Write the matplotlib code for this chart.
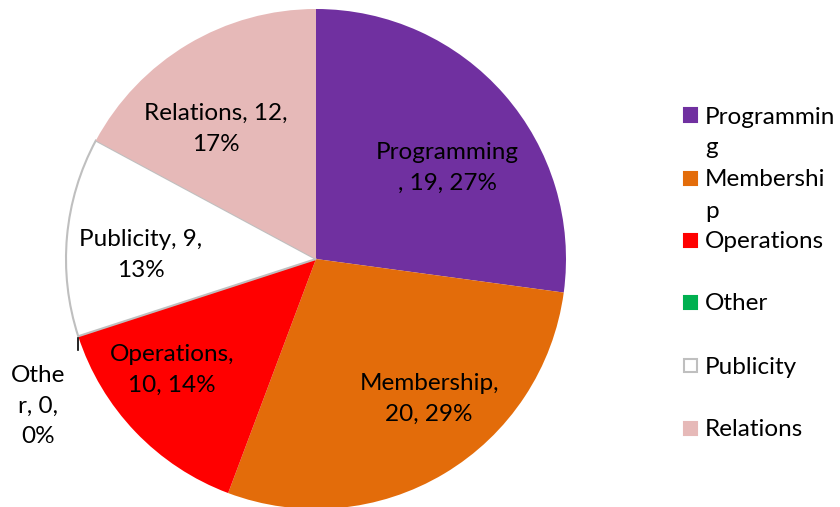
import matplotlib
matplotlib.use("Agg")
import matplotlib.pyplot as plt
from matplotlib.patches import Rectangle
import numpy as np

plt.rcParams['font.family'] = ['Lato', 'DejaVu Sans']

categories = ["Programming", "Membership", "Operations", "Other", "Publicity", "Relations"]
values = [19, 20, 10, 0, 9, 12]
percents = ["27%", "29%", "14%", "0%", "13%", "17%"]
legend_labels = ["Programmin\ng", "Membershi\np", "Operations", "Other", "Publicity", "Relations"]
slice_labels = ["Programming\n, 19, 27%", "Membership,\n20, 29%", "Operations,\n10, 14%",
                "Othe\nr, 0,\n0%", "Publicity, 9,\n13%", "Relations, 12,\n17%"]

colors = ["#7030A0", "#E36C0A", "#FF0000", "#00B050", "#FFFFFF", "#E6B9B8"]
edges = ["none", "none", "none", "none", "#BFBFBF", "none"]

FS = 17.5
W, H = 840, 507
fig = plt.figure(figsize=(W / 100, H / 100), dpi=100)
cx, cy, R = 316, 259, 250
ax = fig.add_axes([(cx - R) / W, (H - cy - R) / H, 2 * R / W, 2 * R / H])
wedges, _ = ax.pie(values, colors=colors, startangle=90, counterclock=False,
                   radius=1.0, wedgeprops=dict(linewidth=1.5))
for w, e in zip(wedges, edges):
    w.set_edgecolor(e)
ax.set_xlim(-1, 1)
ax.set_ylim(-1, 1)
ax.set_aspect('equal')
ax.axis('off')

# label positions (pixels in figure) for each slice label
label_px = [(447, 168), (429, 399), (172, 370), (38, 406), (141, 255), (216, 129)]
for lab, (px, py) in zip(slice_labels, label_px):
    x = (px - cx) / R
    y = (cy - py) / R
    ax.text(x, y, lab, ha='center', va='center', fontsize=FS, color='black',
            linespacing=1.55, clip_on=False)

# leader line for the zero slice
w_other = wedges[3]
th = np.deg2rad(w_other.theta1)
x0, y0 = np.cos(th), np.sin(th)
ax.plot([x0, x0], [y0 - 0.005, y0 - 0.055], color='black', lw=1.2, clip_on=False)

# legend
leg_y = [115, 178, 240, 302, 365, 428]
LINE = 31
for lab, col, e, yy in zip(legend_labels, colors, edges, leg_y):
    s = 13
    rect = Rectangle((684 / W, (H - yy - s / 2) / H), s / W, s / H,
                     transform=fig.transFigure, facecolor=col,
                     edgecolor=(e if e != "none" else col), lw=1.5)
    fig.patches.append(rect)
    for i, part in enumerate(lab.split('\n')):
        fig.text(705 / W, (H - yy - i * LINE) / H, part, ha='left',
                 va='center_baseline', fontsize=FS)

fig.savefig("out.png", dpi=100)
